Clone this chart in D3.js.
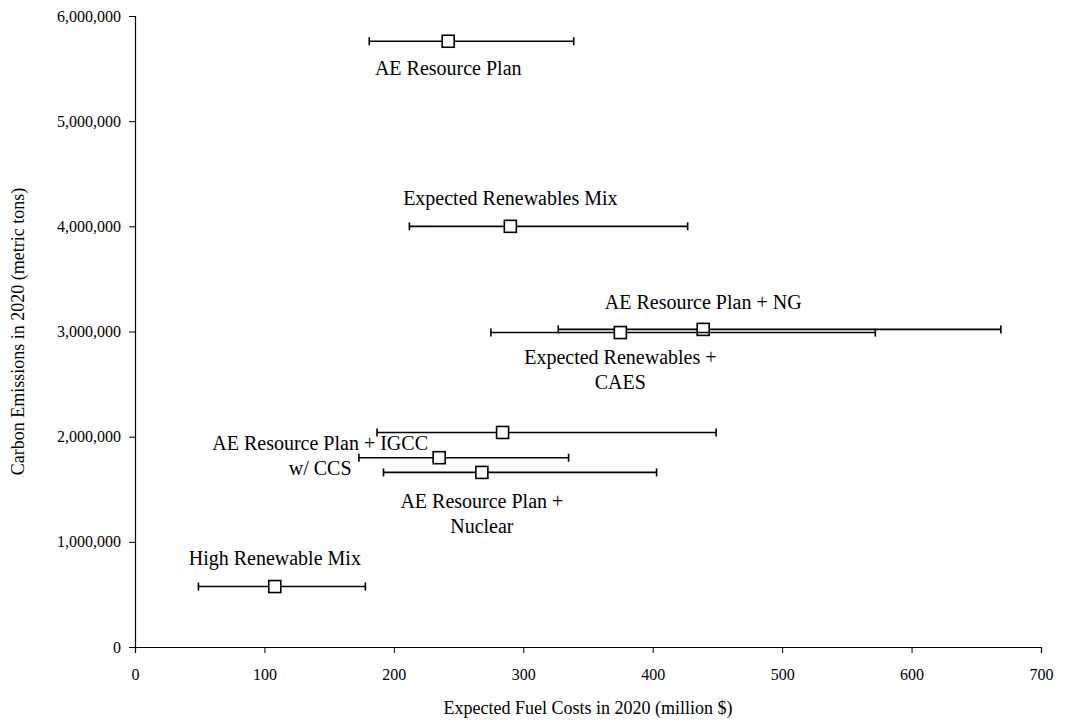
<!DOCTYPE html>
<html>
<head>
<meta charset="utf-8">
<script src="https://cdn.jsdelivr.net/npm/d3@7"></script>
<style>
  body { margin: 0; background: #fff; }
  svg text { font-family: "Liberation Serif", "Times New Roman", serif; fill: #000; }
</style>
</head>
<body>
<svg id="chart" width="1090" height="722"></svg>
<script>
// scenario data
var scenarios = [
    'AE Resource Plan',
    'Expected Renewables Mix',
    'AE Resource Plan + NG',
    'Expected Renewables + CAES',
    '',
    'AE Resource Plan + IGCC w/ CCS',
    'AE Resource Plan + Nuclear',
    'High Renewable Mix'
];
var labelLines = [
    ['AE Resource Plan'],
    ['Expected Renewables Mix'],
    ['AE Resource Plan + NG'],
    ['Expected Renewables +', 'CAES'],
    [],
    ['AE Resource Plan + IGCC', 'w/ CCS'],
    ['AE Resource Plan +', 'Nuclear'],
    ['High Renewable Mix']
];
var fuelCost = [242, 290, 439, 375, 284, 235, 268, 108];       // million $
var fuelCostLow = [181, 212, 327, 275, 187, 173, 192, 49];
var fuelCostHigh = [339, 427, 669, 572, 449, 335, 403, 178];
var emissions = [5760000, 4000000, 3020000, 2990000, 2040000, 1800000, 1660000, 575000]; // metric tons

var xTicks = [0, 100, 200, 300, 400, 500, 600, 700];
var yTicks = [0, 1000000, 2000000, 3000000, 4000000, 5000000, 6000000];

var xTitle = 'Expected Fuel Costs in 2020 (million $)';
var yTitle = 'Carbon Emissions in 2020 (metric tons)';

// label placement relative to each point (px)
var labelLayout = [
    { dx: 0, dy: 34 },
    { dx: 0, dy: -21 },
    { dx: 0, dy: -20 },
    { dx: 0, dy: 31 },
    { dx: 0, dy: 0 },
    { dx: -119, dy: -8 },
    { dx: 0, dy: 36 },
    { dx: 0, dy: -22 }
];
var lineGap = 25;

var svg = d3.select('#chart');

var x = d3.scaleLinear().domain([0, 700]).range([135, 1041]);
var y = d3.scaleLinear().domain([0, 6000000]).range([647, 16]);

var fmt = d3.format(',');

// y axis
var yAxis = d3.axisLeft(y).tickValues(yTicks).tickSize(6).tickPadding(8).tickFormat(fmt);
var gy = svg.append('g')
    .attr('transform', 'translate(' + x(0) + ',0)')
    .call(yAxis);
gy.select('.domain').attr('stroke', '#000').attr('stroke-width', 1.2);
gy.selectAll('.tick line').attr('stroke', '#000');
gy.selectAll('.tick text').style('font-size', '16px').attr('fill', '#000');

// x axis
var xAxis = d3.axisBottom(x).tickValues(xTicks).tickSize(6).tickPadding(16).tickFormat(d3.format('d'));
var gx = svg.append('g')
    .attr('transform', 'translate(0,' + y(0) + ')')
    .call(xAxis);
gx.select('.domain').attr('stroke', '#000').attr('stroke-width', 1.2);
gx.selectAll('.tick line').attr('stroke', '#000');
gx.selectAll('.tick text').style('font-size', '16px').attr('fill', '#000');

// axis titles
svg.append('text')
    .attr('x', (x(0) + x(700)) / 2)
    .attr('y', 714)
    .attr('text-anchor', 'middle')
    .style('font-size', '18px')
    .text(xTitle);

svg.append('text')
    .attr('transform', 'translate(24,' + (y(0) + y(6000000)) / 2 + ') rotate(-90)')
    .attr('text-anchor', 'middle')
    .style('font-size', '18px')
    .text(yTitle);

var points = scenarios.map(function (s, i) {
    return {
        name: s,
        lines: labelLines[i],
        cost: fuelCost[i],
        lo: fuelCostLow[i],
        hi: fuelCostHigh[i],
        co2: emissions[i],
        layout: labelLayout[i]
    };
});

var plot = svg.append('g').attr('class', 'points');

var pt = plot.selectAll('.pt')
    .data(points)
    .enter().append('g')
    .attr('class', 'pt');

// error bars
pt.append('line')
    .attr('x1', function (d) { return x(d.lo); })
    .attr('x2', function (d) { return x(d.hi); })
    .attr('y1', function (d) { return y(d.co2); })
    .attr('y2', function (d) { return y(d.co2); })
    .attr('stroke', '#000')
    .attr('stroke-width', 1.6);

['lo', 'hi'].forEach(function (k) {
    pt.append('line')
        .attr('x1', function (d) { return x(d[k]); })
        .attr('x2', function (d) { return x(d[k]); })
        .attr('y1', function (d) { return y(d.co2) - 4; })
        .attr('y2', function (d) { return y(d.co2) + 4; })
        .attr('stroke', '#000')
        .attr('stroke-width', 1.6);
});

// square markers
pt.append('rect')
    .attr('x', function (d) { return x(d.cost) - 6; })
    .attr('y', function (d) { return y(d.co2) - 6; })
    .attr('width', 12)
    .attr('height', 12)
    .attr('fill', '#fff')
    .attr('stroke', '#000')
    .attr('stroke-width', 1.6);

// labels
pt.each(function (d) {
    var g = d3.select(this);
    d.lines.forEach(function (line, j) {
        g.append('text')
            .attr('x', x(d.cost) + d.layout.dx)
            .attr('y', y(d.co2) + d.layout.dy + j * lineGap)
            .attr('text-anchor', 'middle')
            .style('font-size', '20px')
            .text(line);
    });
});
</script>
</body>
</html>
